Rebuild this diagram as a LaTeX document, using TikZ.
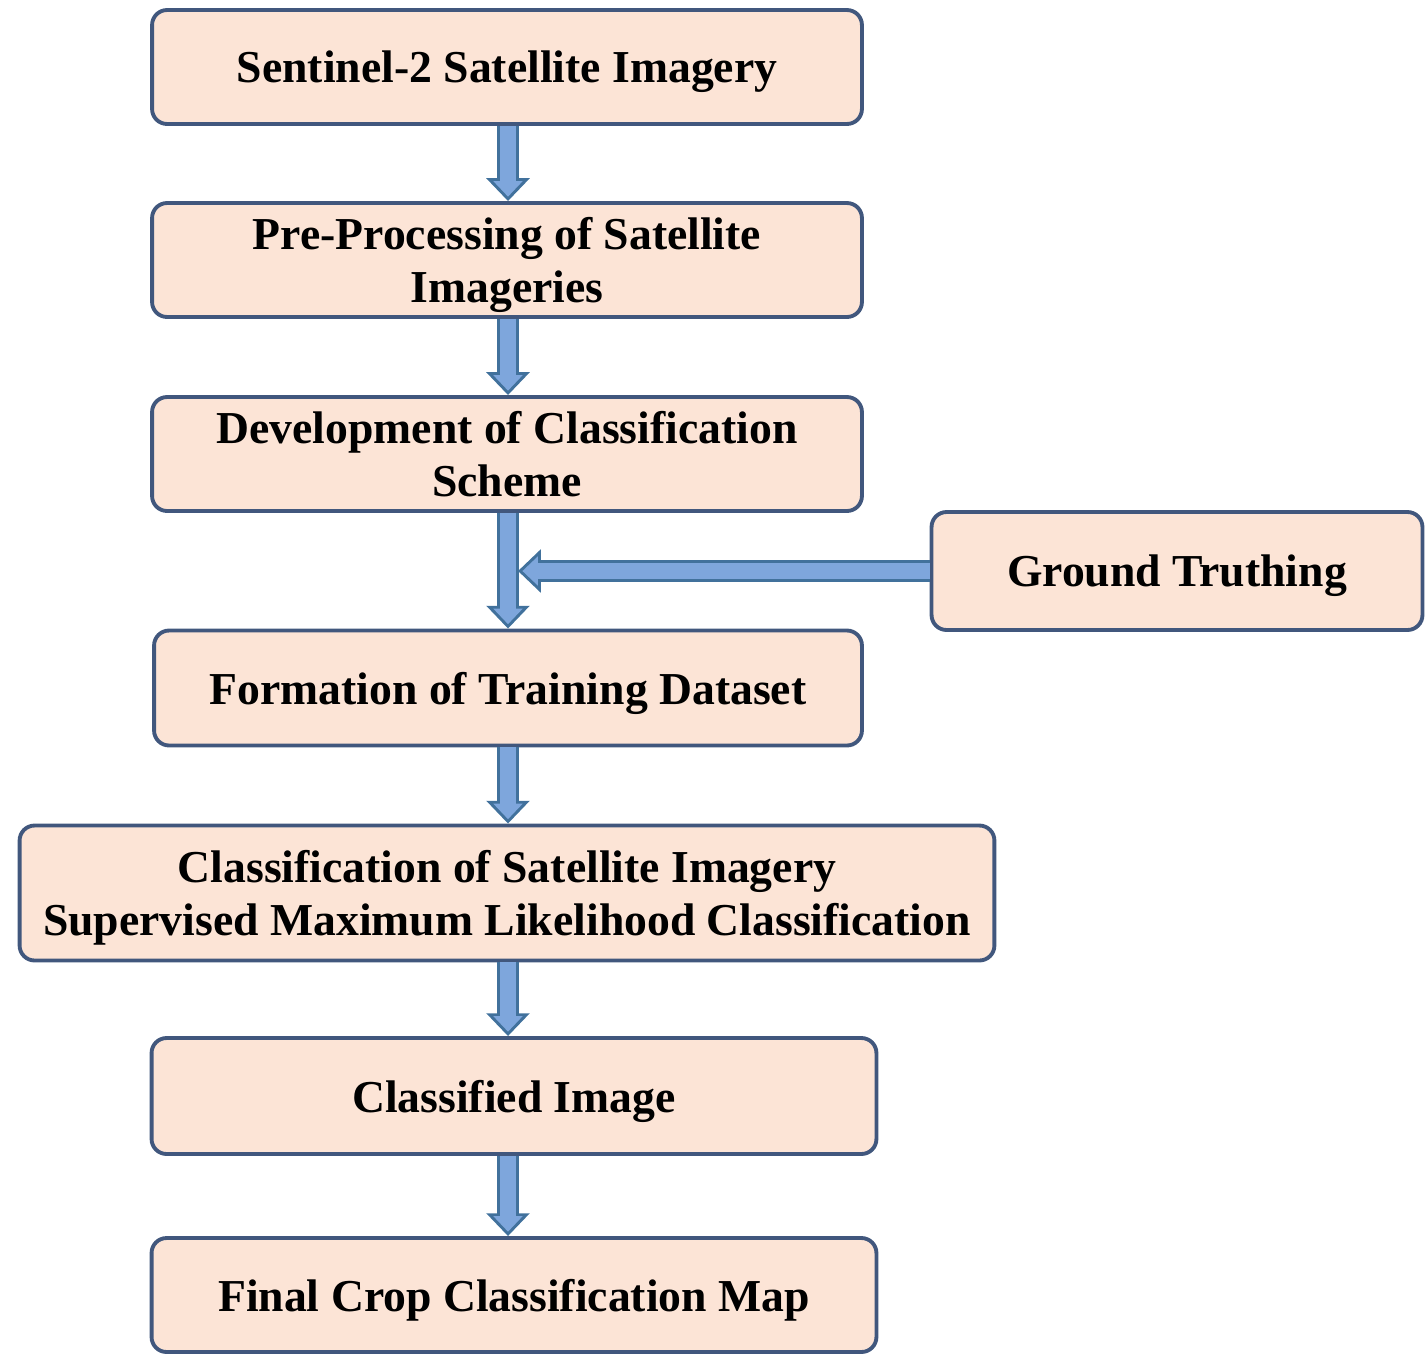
\documentclass[tikz,border=0pt]{standalone}
\usepackage{fontspec}
\setmainfont{Liberation Serif}
\usetikzlibrary{arrows.meta, positioning, calc}

\definecolor{boxfill}{HTML}{FCE4D6}
\definecolor{boxedge}{HTML}{41577D}
\definecolor{arrowfill}{HTML}{7EA6DC}
\definecolor{arrowedge}{HTML}{41719C}

\begin{document}
\begin{tikzpicture}[
    x=0.02cm, y=-0.02cm,
    stepbox/.style={rectangle, rounded corners=0.3cm, draw=boxedge, fill=boxfill, line width=2.2pt,
        minimum width=14.2cm, minimum height=2.28cm, align=center, text depth=0pt,
        font=\fontsize{26}{30.5}\selectfont\bfseries},
    fatarrow/.style={draw=arrowedge, line width=12.5pt, -{Triangle[length=13pt, width=24pt]},
        postaction={draw=arrowfill, line width=9pt, shorten >=2.5pt, -{Triangle[length=8.8pt, width=16.1pt]}}}
]
\useasboundingbox (0,0) rectangle (1426,1353);

% processing steps
\node[stepbox] (sentinel) at (507,67) {Sentinel-2 Satellite Imagery};
\node[stepbox] (preproc)  at (507,260) {Pre-Processing of Satellite\\Imageries};
\node[stepbox] (scheme)   at (507,454) {Development of Classification\\Scheme};
\node[stepbox, minimum width=9.82cm, minimum height=2.36cm] (ground) at (1177,571) {Ground Truthing};
\node[stepbox, minimum width=14.16cm, minimum height=2.3cm] (training) at (508,688) {Formation of Training Dataset};
\node[stepbox, minimum width=19.5cm, minimum height=2.7cm] (classify) at (507,893) {Classification of Satellite Imagery\\Supervised Maximum Likelihood Classification};
\node[stepbox, minimum width=14.5cm, minimum height=2.32cm] (classimg) at (514,1096) {Classified Image};
\node[stepbox, minimum width=14.5cm] (finalmap) at (514,1295) {Final Crop Classification Map};

% spine of the vertical arrows and joint on it
\coordinate (spine) at (508,0);
\coordinate (join) at ($(scheme.south)+(11,0)$);

% arrows between steps
\foreach \a/\b in {sentinel/preproc, preproc/scheme, scheme/training, training/classify, classify/classimg, classimg/finalmap} {
    \draw[fatarrow] (spine |- \a.south) -- (spine |- \b.north);
}

% ground truth feeds in
\draw[fatarrow] (ground.west) -- (join |- ground.west);

\end{tikzpicture}
\end{document}
